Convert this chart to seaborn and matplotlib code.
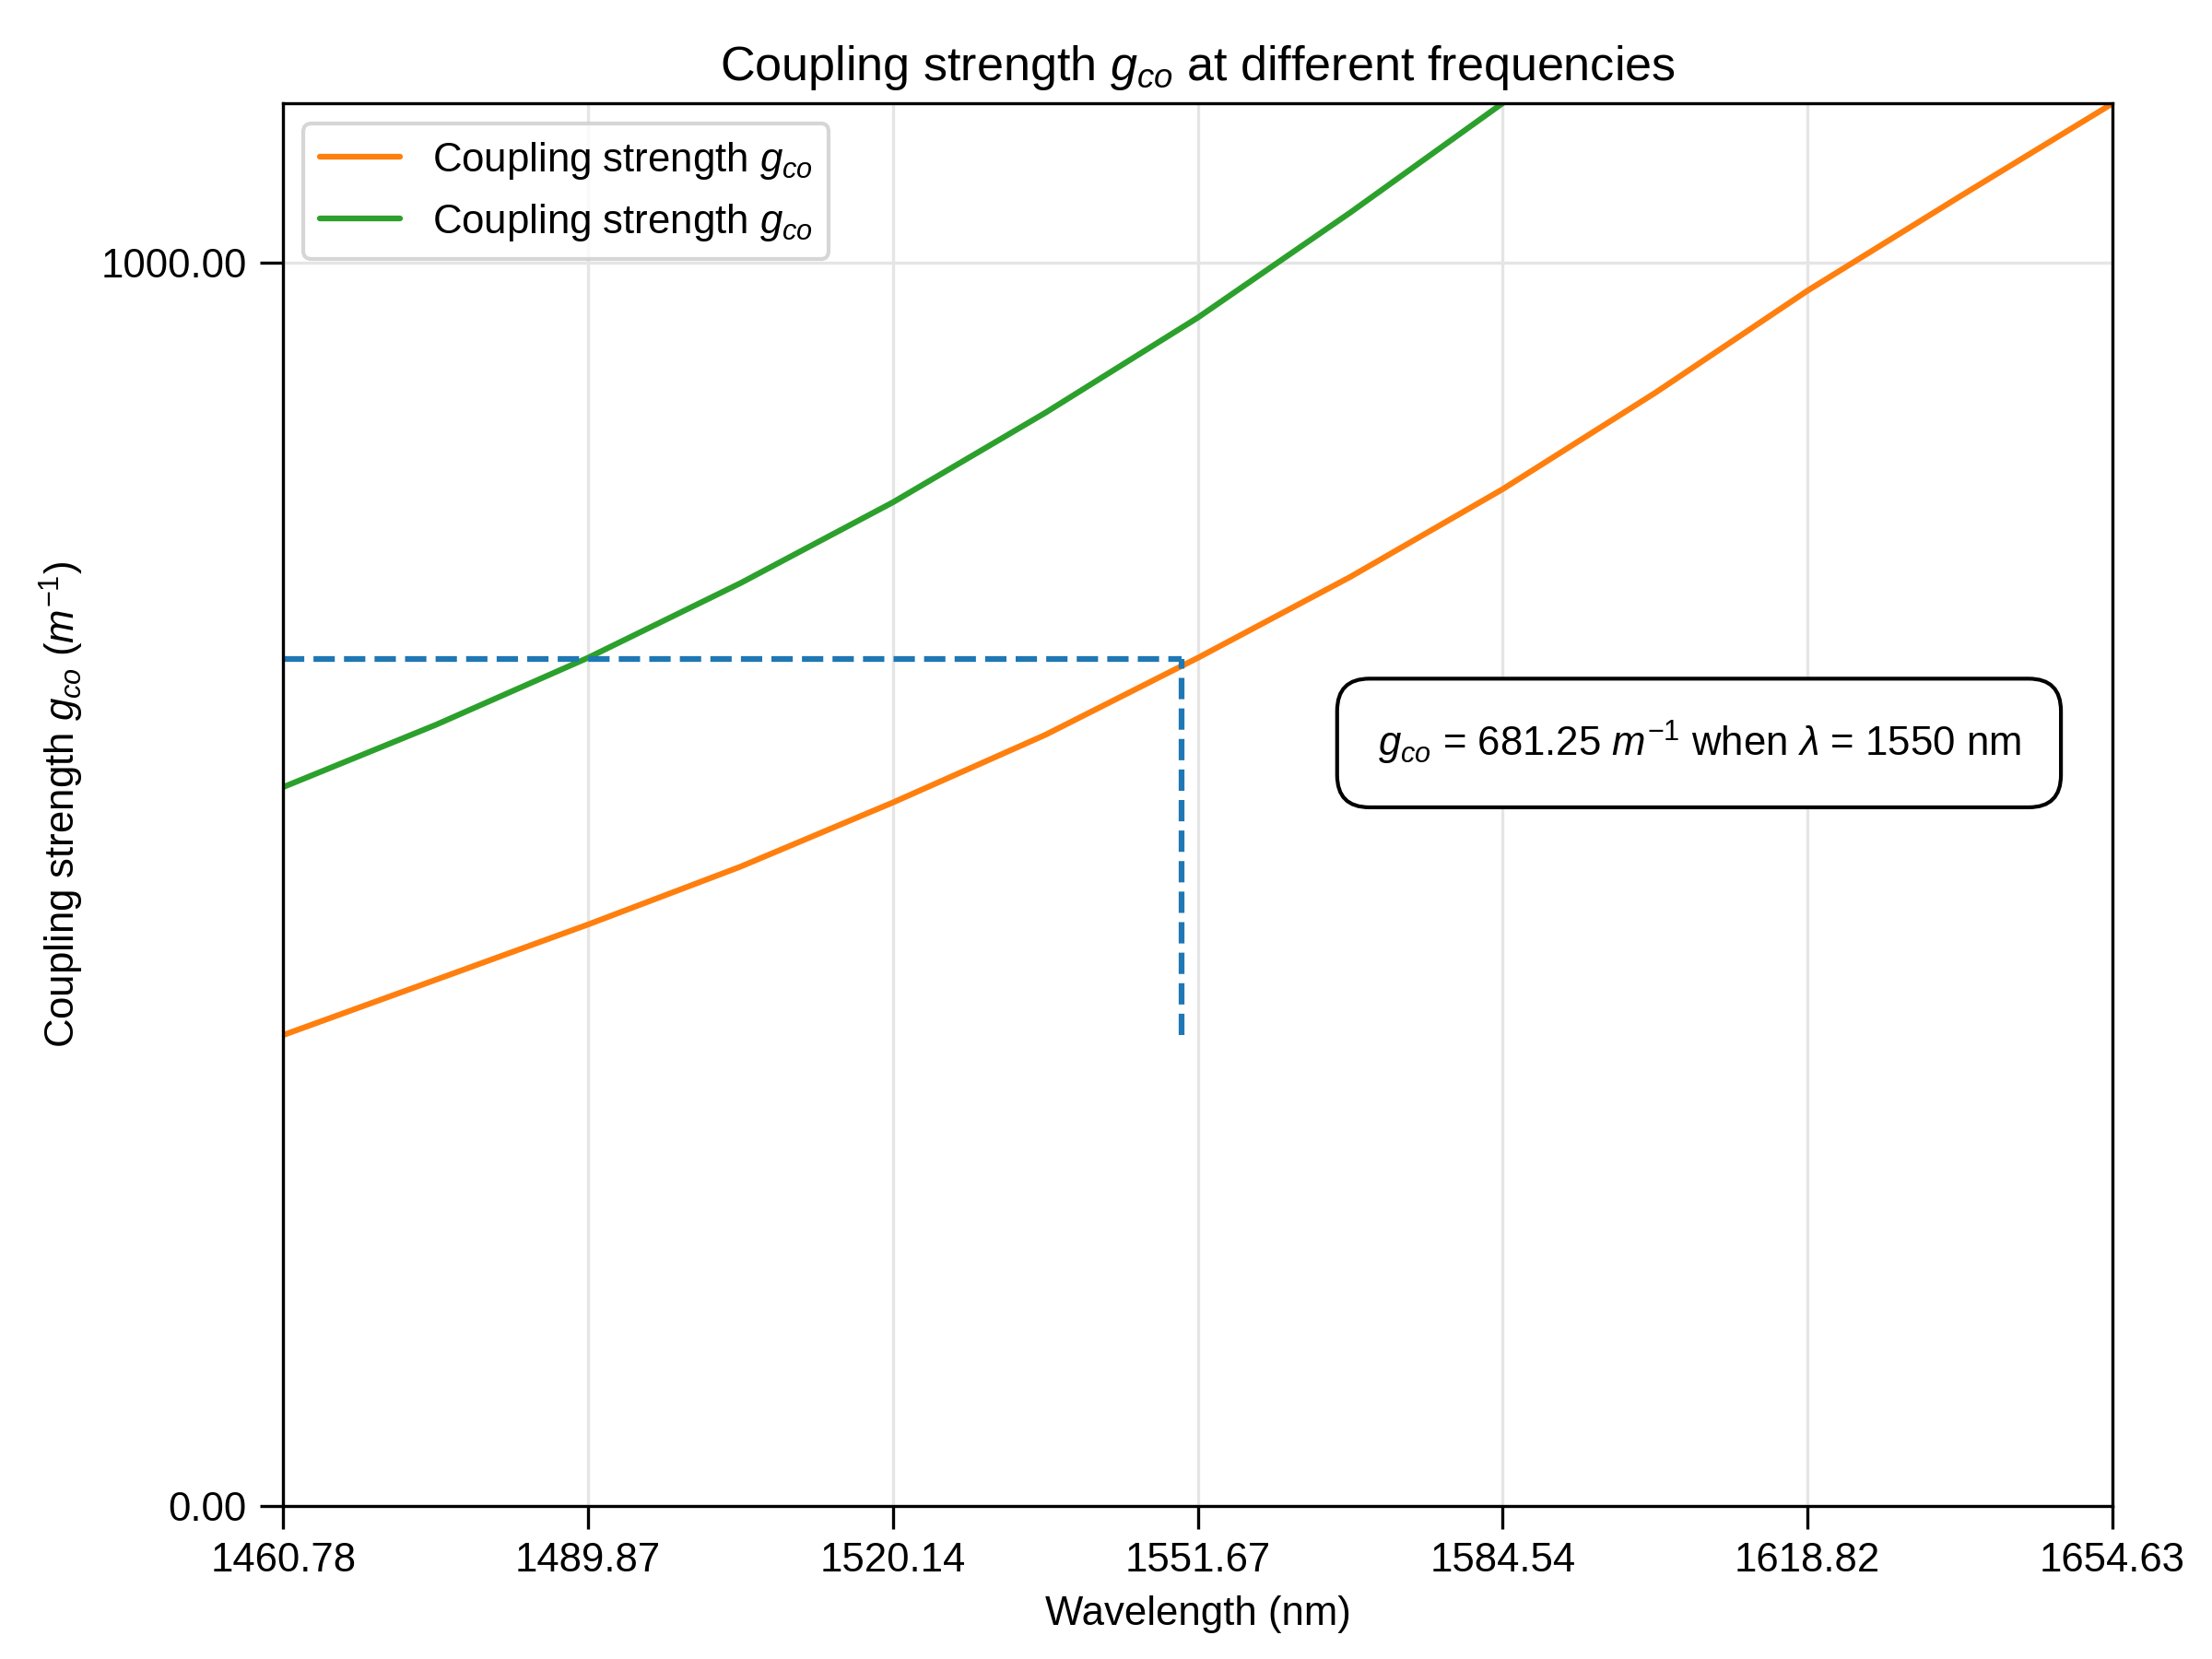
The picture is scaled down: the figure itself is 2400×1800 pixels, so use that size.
import numpy as np
import pandas as pd
import matplotlib
matplotlib.use("Agg")
import matplotlib.pyplot as plt
import seaborn as sns

sns.set_theme(style="ticks")
plt.rcParams['font.family'] = ['Liberation Sans', 'DejaVu Sans']
plt.rcParams['mathtext.fontset'] = 'custom'
plt.rcParams['mathtext.it'] = 'Liberation Sans:italic'
plt.rcParams['mathtext.rm'] = 'Liberation Sans'
for k in ['text.color', 'axes.labelcolor', 'xtick.color', 'ytick.color']:
    plt.rcParams[k] = 'black'

wavelength_ticks = [1460.78, 1489.87, 1520.14, 1551.67, 1584.54, 1618.82, 1654.63]
# values sampled at tick positions and halfway between them (in frequency)
orange_vals = [378.6, 423.0, 467.5, 514.0, 565.6, 620.0, 681.9, 747.0,
               817.6, 895.0, 977.2, 1053.0, 1127.7]
green_vals = [578.0, 628.0, 682.0, 742.0, 807.0, 879.0, 955.5, 1040.0,
              1128.0, 1222.0, 1320.0, 1422.0, 1530.0]
g_at_1550 = 681.25
lam_mark = 1550
y_dash_bottom = 378.6

C = 299792.458
freq = [C / w for w in wavelength_ticks]
fpts = []
for i in range(len(freq)):
    fpts.append(freq[i])
    if i < len(freq) - 1:
        fpts.append((freq[i] + freq[i + 1]) / 2)
n = len(fpts)
df = pd.DataFrame({"f": fpts * 2,
                   "g": orange_vals + green_vals,
                   "s": ["o"] * n + ["g"] * n})

fig = plt.figure(figsize=(8, 6), dpi=300)
ax = fig.add_axes([0.128, 0.0923, 0.827, 0.8453])
lbl = r"Coupling strength $g_{co}$"
sns.lineplot(data=df[df.s == "o"], x="f", y="g", color="#ff7f0e", lw=1.5, ax=ax, label=lbl)
sns.lineplot(data=df[df.s == "g"], x="f", y="g", color="#2ca02c", lw=1.5, ax=ax, label=lbl)

fm = C / lam_mark
ax.plot([freq[0], fm], [g_at_1550, g_at_1550], ls="--", color="#1f77b4", lw=1.5)
ax.plot([fm, fm], [y_dash_bottom, g_at_1550], ls="--", color="#1f77b4", lw=1.5)

ax.set_xlim(freq[0], freq[-1])
ax.set_ylim(0, 1127.7)
ax.set_xticks(freq)
ax.set_xticklabels([f"{w:.2f}" for w in wavelength_ticks])
ax.set_yticks([0, 1000])
ax.set_yticklabels(["0.00", "1000.00"])
ax.grid(True, color="#e5e5e5", lw=0.8)
ax.set_xlabel("Wavelength (nm)", fontsize=10.5)
ax.set_ylabel(r"Coupling strength $g_{co}$ $(m^{-1})$", fontsize=10.5)
ax.set_title(r"Coupling strength $g_{co}$ at different frequencies", fontsize=12.5)
ax.tick_params(labelsize=10.5, width=0.8)
for s in ax.spines.values():
    s.set_color("black")
    s.set_linewidth(0.8)
ax.legend(loc="upper left", fontsize=10.5)
ax.text(0.774, 0.544, r"$g_{co}$ = 681.25 $m^{-1}$ when $\lambda$ = 1550 nm",
        transform=ax.transAxes, ha="center", va="center", fontsize=10.5,
        bbox=dict(boxstyle="round,pad=1.0,rounding_size=0.8", fc="white", ec="black"))
fig.savefig("out.png", dpi=300)
